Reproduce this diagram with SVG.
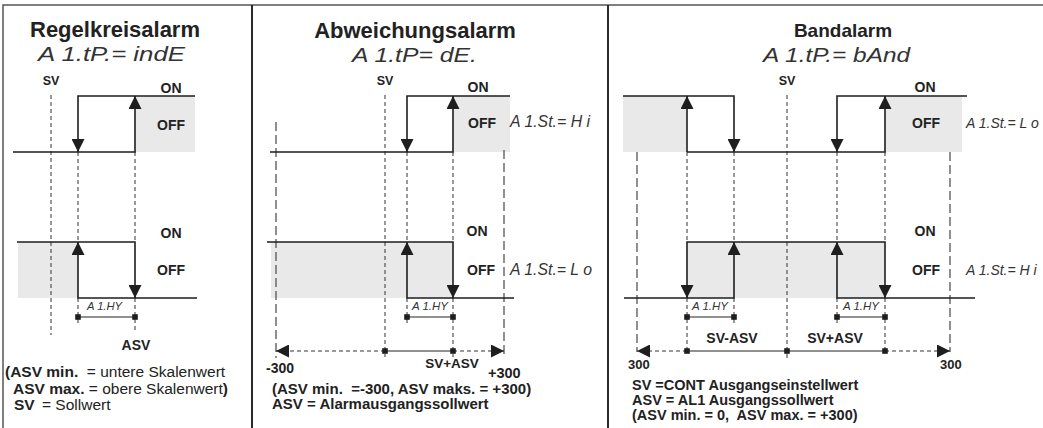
<svg xmlns="http://www.w3.org/2000/svg" width="1043" height="428" viewBox="0 0 1043 428">
<style>
.t{font-family:"Liberation Sans",Arial,sans-serif;fill:#222;white-space:pre;}
.b{font-weight:bold;}
.title{font-family:"Liberation Sans",Arial,sans-serif;font-weight:bold;fill:#222;text-anchor:middle;}
.seg{font-family:"Liberation Sans",Arial,sans-serif;font-style:italic;fill:#333;}
.lab{font-family:"Liberation Sans",Arial,sans-serif;font-weight:bold;fill:#222;font-size:14px;text-anchor:middle;}
.sig{fill:none;stroke:#1e1e1e;stroke-width:1.6;}
.sd{fill:none;stroke:#333;stroke-width:1;stroke-dasharray:4 3;}
.ld{fill:none;stroke:#555;stroke-width:1.3;stroke-dasharray:9 4;}
.bar{fill:none;stroke:#222;stroke-width:1.2;}
.gray{fill:#e8e9e8;}
.sq{fill:#1e1e1e;}
.frame{fill:none;stroke:#555;stroke-width:1.5;}
.div{fill:none;stroke:#2a2a2a;stroke-width:2;}
</style>
<defs>
<marker id="ah" viewBox="-13 -6.5 13 13" refX="0" refY="0" markerWidth="13" markerHeight="13" markerUnits="userSpaceOnUse" orient="auto">
<path d="M0,0 L-13,-6.5 L-13,6.5 Z" fill="#1e1e1e"/>
</marker>
<rect id="sqr" x="-2.8" y="-2.8" width="5.6" height="5.6" class="sq"/>
</defs>
<rect width="1043" height="428" fill="#ffffff"/>

<g id="frame">
<path class="frame" d="M3,428 V5 H1043"/>
<path class="div" d="M252,5 V428 M608,5 V428"/>
</g>

<g id="shading">
<rect class="gray" x="135" y="96" width="60" height="56"/>
<rect class="gray" x="18" y="242" width="60" height="56"/>
<rect class="gray" x="453" y="96" width="57" height="56"/>
<rect class="gray" x="271" y="242" width="182" height="56"/>
<rect class="gray" x="623" y="96" width="64" height="56"/>
<rect class="gray" x="885" y="96" width="77" height="56"/>
<rect class="gray" x="687" y="242" width="198" height="56"/>
</g>

<g id="connectors">
<path class="sd" d="M51,95 V335"/>
<path class="sd" d="M78,152 V242 M78,298 V323"/>
<path class="sd" d="M135,152 V242 M135,298 V332"/>
<path class="sig" d="M13,152 H135 V96" marker-end="url(#ah)"/>
<path class="sig" d="M195,96 H78 V152" marker-end="url(#ah)"/>
<path class="sig" d="M17,242 H135 V298" marker-end="url(#ah)"/>
<path class="sig" d="M197,298 H78 V242" marker-end="url(#ah)"/>
<path class="bar" d="M78,317 H135"/>
<use href="#sqr" x="78" y="317"/><use href="#sqr" x="135" y="317"/>

<path class="ld" d="M276,122 V358"/>
<path class="ld" d="M504,150 V358"/>
<path class="sd" d="M385,95 V357"/>
<path class="sd" d="M407,152 V242 M407,298 V323"/>
<path class="sd" d="M453,152 V242 M453,298 V357"/>
<path class="sig" d="M270,152 H453 V96" marker-end="url(#ah)"/>
<path class="sig" d="M510,96 H407 V152" marker-end="url(#ah)"/>
<path class="sig" d="M267,242 H453 V298" marker-end="url(#ah)"/>
<path class="sig" d="M514,298 H407 V242" marker-end="url(#ah)"/>
<path class="bar" d="M407,317 H453"/>
<use href="#sqr" x="407" y="317"/><use href="#sqr" x="453" y="317"/>
<path class="sd" d="M385,351 H276" marker-end="url(#ah)"/>
<path class="sd" d="M453,351 H504" marker-end="url(#ah)"/>
<path class="bar" d="M385,351 H453"/>
<use href="#sqr" x="385" y="351"/><use href="#sqr" x="453" y="351"/>

<path class="ld" d="M637,152 V352"/>
<path class="ld" d="M950,152 V352"/>
<path class="sd" d="M787,95 V360"/>
<path class="sd" d="M687,152 V242 M687,298 V352"/>
<path class="sd" d="M734,152 V242 M734,298 V325"/>
<path class="sd" d="M837,152 V242 M837,298 V325"/>
<path class="sd" d="M885,152 V242 M885,298 V352"/>
<path class="sig" d="M623,96 H734 V152" marker-end="url(#ah)"/>
<path class="sig" d="M687,152 H885 V96" marker-end="url(#ah)"/>
<path class="sig" d="M687,152 V96" marker-end="url(#ah)"/>
<path class="sig" d="M967,96 H837 V152" marker-end="url(#ah)"/>
<path class="sig" d="M624,298 H734 V242" marker-end="url(#ah)"/>
<path class="sig" d="M975,298 H837 V242" marker-end="url(#ah)"/>
<path class="sig" d="M786,242 H687 V298" marker-end="url(#ah)"/>
<path class="sig" d="M786,242 H885 V298" marker-end="url(#ah)"/>
<path class="bar" d="M687,317 H734 M837,317 H885"/>
<use href="#sqr" x="687" y="317"/><use href="#sqr" x="734" y="317"/>
<use href="#sqr" x="837" y="317"/><use href="#sqr" x="885" y="317"/>
<path class="sd" d="M687,351 H637" marker-end="url(#ah)"/>
<path class="sd" d="M885,351 H950" marker-end="url(#ah)"/>
<path class="bar" d="M687,351 H885"/>
<use href="#sqr" x="687" y="351"/><use href="#sqr" x="787" y="351"/><use href="#sqr" x="885" y="351"/>
</g>

<g id="panel-regelkreisalarm">
<text class="title" x="115" y="37" font-size="22">Regelkreisalarm</text>
<text class="seg" x="38" y="61" font-size="21" textLength="147" lengthAdjust="spacingAndGlyphs">A 1.tP.= indE</text>
<text class="t b" x="51" y="85" font-size="12.5" text-anchor="middle">SV</text>
<text class="lab" x="171" y="93">ON</text>
<text class="lab" x="171" y="130">OFF</text>
<text class="lab" x="171" y="238">ON</text>
<text class="lab" x="171" y="275">OFF</text>
<text class="seg" x="87" y="310" font-size="11" textLength="35" lengthAdjust="spacingAndGlyphs">A 1.HY</text>
<text class="lab" x="136" y="350">ASV</text>
<text class="t" font-size="15.5" x="5" y="377" xml:space="preserve"><tspan class="b">(ASV min.  </tspan><tspan>= untere Skalenwert</tspan></text>
<text class="t" font-size="15.5" x="13" y="394" xml:space="preserve"><tspan class="b">ASV max. </tspan><tspan>= obere Skalenwert</tspan><tspan class="b">)</tspan></text>
<text class="t" font-size="15.5" y="410"><tspan x="14" class="b">SV</tspan><tspan x="42">= Sollwert</tspan></text>
</g>

<g id="panel-abweichungsalarm">
<text class="title" x="415" y="38" font-size="22">Abweichungsalarm</text>
<text class="seg" x="352" y="62" font-size="21" textLength="125" lengthAdjust="spacingAndGlyphs">A 1.tP= dE.</text>
<text class="t b" x="385" y="85" font-size="12.5" text-anchor="middle">SV</text>
<text class="lab" x="478" y="92">ON</text>
<text class="lab" x="482" y="128">OFF</text>
<text class="seg" x="510" y="127" font-size="16" textLength="80" lengthAdjust="spacingAndGlyphs">A 1.St.= H i</text>
<text class="lab" x="477" y="236">ON</text>
<text class="lab" x="481" y="275">OFF</text>
<text class="seg" x="510" y="275" font-size="16" textLength="82" lengthAdjust="spacingAndGlyphs">A 1.St.= L o</text>
<text class="seg" x="412" y="310" font-size="11" textLength="36" lengthAdjust="spacingAndGlyphs">A 1.HY</text>
<text class="t b" x="266" y="373" font-size="14">-300</text>
<text class="t b" x="452" y="368" font-size="13.5" text-anchor="middle">SV+ASV</text>
<text class="t b" x="488" y="378" font-size="14.5">+300</text>
<text class="t b" x="272" y="394" font-size="15" xml:space="preserve">(ASV min.  =-300, ASV maks. = +300)</text>
<text class="t b" x="272" y="409" font-size="15">ASV = Alarmausgangssollwert</text>
</g>

<g id="panel-bandalarm">
<text class="title" x="843" y="37" font-size="19">Bandalarm</text>
<text class="seg" x="763" y="62" font-size="21" textLength="147" lengthAdjust="spacingAndGlyphs">A 1.tP.= bAnd</text>
<text class="t b" x="787" y="85" font-size="12.5" text-anchor="middle">SV</text>
<text class="lab" x="925" y="92">ON</text>
<text class="lab" x="926" y="128">OFF</text>
<text class="seg" x="966" y="128" font-size="14">A 1.St.= L o</text>
<text class="lab" x="925" y="236">ON</text>
<text class="lab" x="926" y="275">OFF</text>
<text class="seg" x="966" y="275" font-size="14">A 1.St.= H i</text>
<text class="seg" x="692" y="310" font-size="11" textLength="36" lengthAdjust="spacingAndGlyphs">A 1.HY</text>
<text class="seg" x="843" y="310" font-size="11" textLength="36" lengthAdjust="spacingAndGlyphs">A 1.HY</text>
<text class="t b" x="732" y="343" font-size="14" text-anchor="middle">SV-ASV</text>
<text class="t b" x="835" y="343" font-size="14" text-anchor="middle">SV+ASV</text>
<text class="t b" x="628" y="369" font-size="13">300</text>
<text class="t b" x="940" y="369" font-size="13">300</text>
<text class="t b" x="632" y="390" font-size="14.5">SV =CONT Ausgangseinstellwert</text>
<text class="t b" x="632" y="405" font-size="14.5">ASV = AL1 Ausgangssollwert</text>
<text class="t b" x="632" y="420" font-size="14.5" xml:space="preserve">(ASV min. = 0,  ASV max. = +300)</text>
</g>
</svg>
